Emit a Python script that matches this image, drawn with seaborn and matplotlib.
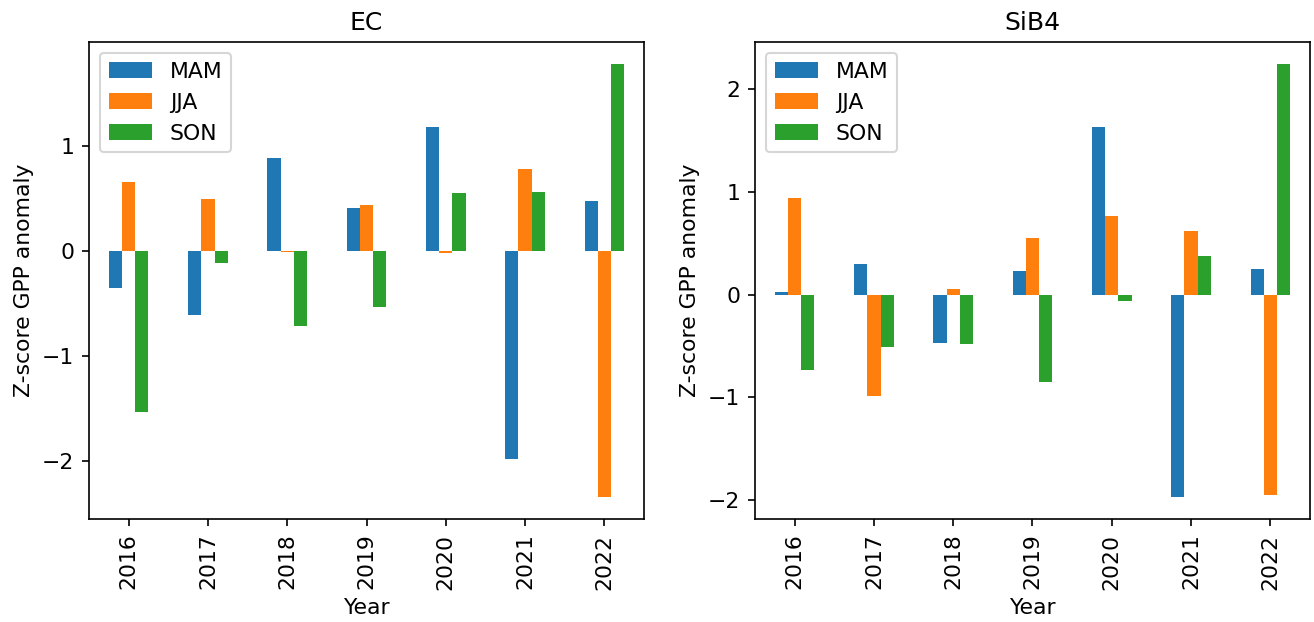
import matplotlib
matplotlib.use("Agg")
import matplotlib.pyplot as plt
import pandas as pd
import seaborn as sns

years = ["2016", "2017", "2018", "2019", "2020", "2021", "2022"]
seasons = ["MAM", "JJA", "SON"]

# Seasonal GPP z-score anomalies, eddy-covariance estimate
ec_mam = [-0.35, -0.61, 0.886, 0.406, 1.181, -1.978, 0.476]
ec_jja = [0.657, 0.495, -0.01, 0.437, -0.02, 0.784, -2.343]
ec_son = [-1.533, -0.115, -0.711, -0.533, 0.555, 0.565, 1.784]

# Seasonal GPP z-score anomalies, SiB4 model
sib_mam = [0.03, 0.30, -0.475, 0.23, 1.63, -1.974, 0.254]
sib_jja = [0.94, -0.99, 0.055, 0.556, 0.768, 0.62, -1.95]
sib_son = [-0.73, -0.51, -0.48, -0.85, -0.06, 0.38, 2.25]

colors = ["#1f77b4", "#ff7f0e", "#2ca02c"]


def to_long(mam, jja, son):
    rows = []
    for season, vals in zip(seasons, [mam, jja, son]):
        for y, v in zip(years, vals):
            rows.append({"Year": y, "season": season, "value": v})
    return pd.DataFrame(rows)


plt.rcParams["font.size"] = 10.5
plt.rcParams["axes.titlesize"] = 12

fig, axes = plt.subplots(1, 2, figsize=(1314 / 150, 622 / 150), dpi=150)
fig.subplots_adjust(left=89 / 1314, right=1310 / 1314, top=1 - 42 / 622,
                    bottom=1 - 519 / 622, wspace=0.2)

for ax, title, data in zip(
    axes,
    ["EC", "SiB4"],
    [to_long(ec_mam, ec_jja, ec_son), to_long(sib_mam, sib_jja, sib_son)],
):
    sns.barplot(data=data, x="Year", y="value", hue="season",
                order=years, hue_order=seasons, palette=colors,
                width=0.5, saturation=1, errorbar=None, ax=ax)
    ax.set_title(title)
    ax.set_xlabel("Year")
    ax.set_ylabel("Z-score GPP anomaly")
    ax.tick_params(axis="x", labelrotation=90)
    ax.legend(loc="upper left")

fig.savefig("out.png", dpi=150)
